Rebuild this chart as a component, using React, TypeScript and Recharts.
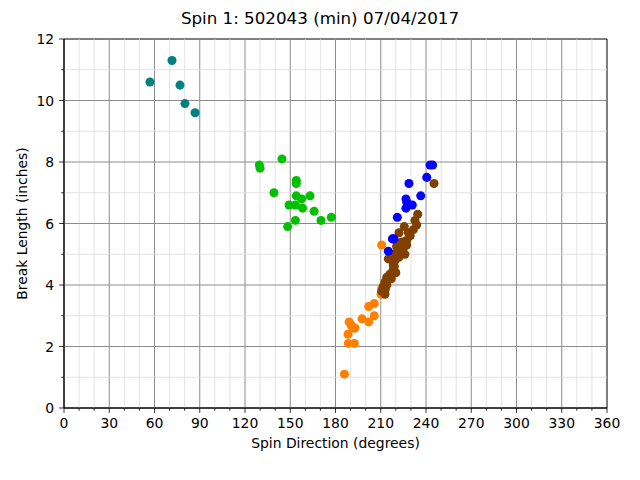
import React from "react"
import {
  ScatterChart,
  Scatter,
  XAxis,
  YAxis,
  ZAxis,
  ReferenceLine,
  ReferenceArea,
} from "recharts"

const title = "Spin 1: 502043 (min) 07/04/2017"
const xLabel = "Spin Direction (degrees)"
const yLabel = "Break Length (inches)"

const xTicks = [0, 10, 20, 30, 40, 50, 60, 70, 80, 90, 100, 110, 120, 130, 140, 150, 160, 170, 180, 190, 200, 210, 220, 230, 240, 250, 260, 270, 280, 290, 300, 310, 320, 330, 340, 350, 360]
const yTicks = [0, 1, 2, 3, 4, 5, 6, 7, 8, 9, 10, 11, 12]

// [spin direction, break length]
const tealPoints = [
  [57, 10.6], [71.6, 11.3], [76.9, 10.5], [80.2, 9.9], [86.9, 9.6],
]
const greenPoints = [
  [129.5, 7.9], [130, 7.8], [144.5, 8.1], [139.2, 7.0], [154, 7.4], [154, 7.3],
  [154, 6.9], [157.6, 6.8], [163.1, 6.9], [149.2, 6.6], [153.4, 6.6], [158.2, 6.5],
  [165.8, 6.4], [153.4, 6.1], [170.4, 6.1], [177.2, 6.2], [148.3, 5.9],
]
const orangePoints = [
  [185.9, 1.1], [188.5, 2.1], [192.5, 2.1], [188.3, 2.4], [189, 2.8], [190.3, 2.7],
  [191.8, 2.6], [192.9, 2.6], [197.6, 2.9], [202, 2.8], [202, 3.3], [205.7, 3.0],
  [205.7, 3.4], [210.6, 5.3], [210.2, 3.7], [210.6, 3.9],
]
const brownPoints = [
  [245.3, 7.3], [234.5, 6.3], [232.7, 6.1], [233.8, 5.95], [231.6, 5.8], [225.6, 5.9],
  [222.1, 5.7], [228.3, 5.7], [227.2, 5.45], [227.2, 5.3], [223.9, 5.4], [225, 5.2],
  [220.5, 5.25], [221.7, 5.0], [218.3, 5.0], [215, 4.85], [219.5, 4.8], [218.3, 4.65],
  [218.3, 4.5], [216.1, 4.35], [214, 4.25], [212.8, 4.1], [211.7, 3.95], [210.6, 3.8],
  [212.8, 3.7], [226, 5.0], [222, 4.9], [220, 4.4], [217, 4.2], [214, 4.0], [219, 4.6],
  [213, 3.85], [229.5, 5.6], [224, 5.1],
]
const bluePoints = [
  [242.7, 7.9], [244.4, 7.9], [240.5, 7.5], [228.7, 7.3], [236.5, 6.9], [226.7, 6.8],
  [227.2, 6.7], [230.9, 6.6], [226.7, 6.5], [221, 6.2], [217.7, 5.5], [218.8, 5.5],
  [215, 5.1],
]

const series = [
  { name: "teal", color: "#008080", points: tealPoints },
  { name: "green", color: "#00c000", points: greenPoints },
  { name: "orange", color: "#ff8000", points: orangePoints },
  { name: "brown", color: "#804000", points: brownPoints },
  { name: "blue", color: "#0000ff", points: bluePoints },
]

const font = "'DejaVu Sans', sans-serif"

function XTick(props: any) {
  const { x, y, payload } = props
  const major = payload.value % 30 === 0
  const len = major ? 4.9 : 2.8
  return (
    <g>
      <line x1={x} y1={y} x2={x} y2={y + len} stroke="#000" strokeWidth={0.8} />
      {major && (
        <text x={x} y={y + 9.8} dy="0.76em" textAnchor="middle" fontSize={13.9} fontFamily={font} fill="#000">
          {payload.value}
        </text>
      )}
    </g>
  )
}

function YTick(props: any) {
  const { x, y, payload } = props
  const major = payload.value % 2 === 0
  const len = major ? 4.9 : 2.8
  return (
    <g>
      <line x1={x} y1={y} x2={x - len} y2={y} stroke="#000" strokeWidth={0.8} />
      {major && (
        <text x={x - 9.8} y={y} dy="0.36em" textAnchor="end" fontSize={13.9} fontFamily={font} fill="#000">
          {payload.value}
        </text>
      )}
    </g>
  )
}

export default function App() {
  return (
    <div style={{ position: "absolute", left: 0, top: 0, width: 640, height: 480, background: "#fff" }}>
      <div
        style={{
          position: "absolute",
          left: 0,
          top: 7,
          width: 640,
          textAlign: "center",
          fontFamily: font,
          fontSize: 16.7,
          lineHeight: "22px",
          color: "#000",
        }}
      >
        {title}
      </div>
      <ScatterChart width={640} height={480} margin={{ top: 39, right: 33, bottom: 0, left: 0 }}>
        {xTicks.map((v) =>
          v > 0 && v < 360 ? (
            <ReferenceLine
              key={`gx${v}`}
              x={v}
              stroke={v % 30 === 0 ? "#8c8c8c" : "#dcdcdc"}
              strokeWidth={v % 30 === 0 ? 1 : 0.8}
              ifOverflow="extendDomain"
            />
          ) : null
        )}
        {yTicks.map((v) =>
          v > 0 && v < 12 ? (
            <ReferenceLine
              key={`gy${v}`}
              y={v}
              stroke={v % 2 === 0 ? "#8c8c8c" : "#dcdcdc"}
              strokeWidth={v % 2 === 0 ? 1 : 0.8}
            />
          ) : null
        )}
        <ReferenceArea x1={0} x2={360} y1={0} y2={12} fill="none" stroke="#000" strokeWidth={1} />
        <XAxis
          type="number"
          dataKey="x"
          domain={[0, 360]}
          ticks={xTicks}
          interval={0}
          height={72}
          tickSize={0}
          tickMargin={0}
          tickLine={false}
          axisLine={{ stroke: "#000" }}
          tick={<XTick />}
          label={{ value: xLabel, position: "insideBottom", offset: 32, fill: "#000", fontSize: 13.9, fontFamily: font }}
        />
        <YAxis
          type="number"
          dataKey="y"
          domain={[0, 12]}
          ticks={yTicks}
          interval={0}
          width={64}
          tickSize={0}
          tickMargin={0}
          tickLine={false}
          axisLine={{ stroke: "#000" }}
          tick={<YTick />}
          label={{
            value: yLabel,
            angle: -90,
            position: "insideLeft",
            offset: 22,
            fill: "#000",
            fontSize: 13.9,
            fontFamily: font,
            style: { textAnchor: "middle" },
          }}
        />
        <ZAxis range={[30, 30]} />
        {series.map((s) => (
          <Scatter
            key={s.name}
            name={s.name}
            data={s.points.map(([x, y]) => ({ x, y }))}
            fill={s.color}
            isAnimationActive={false}
          />
        ))}
      </ScatterChart>
    </div>
  )
}
